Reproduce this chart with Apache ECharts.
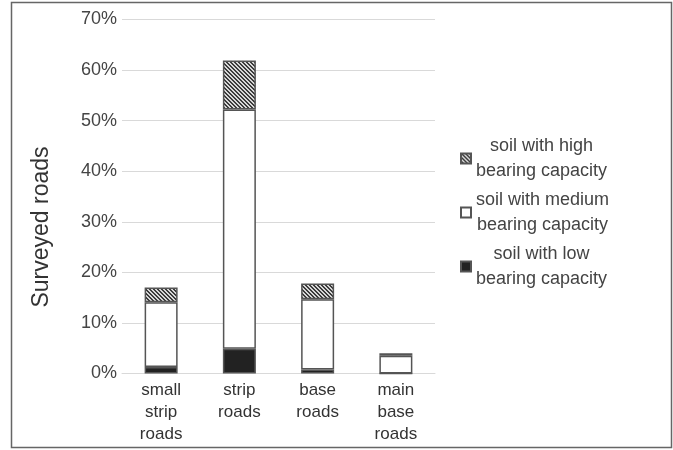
<!DOCTYPE html>
<html>
<head>
<meta charset="utf-8">
<script src="https://cdn.jsdelivr.net/npm/echarts@6/dist/echarts.min.js"></script>
<style>
html, body { margin: 0; padding: 0; background: #fff; }
#chart { width: 673px; height: 450px; }
</style>
</head>
<body>
<div id="chart"></div>
<script>
// data (percent of surveyed roads)
var categories = ['small\nstrip\nroads', 'strip\nroads', 'base\nroads', 'main\nbase\nroads'];
var lowSoil = [1.3, 4.9, 0.8, 0];
var mediumSoil = [12.8, 47.3, 13.9, 3.5];
var highSoil = [2.9, 9.7, 3.1, 0.5];
var seriesNames = ['soil with high\nbearing capacity', 'soil with medium\nbearing capacity', 'soil with low\nbearing capacity'];

// hatch pattern for "high"
function makeHatch() {
    var c = document.createElement('canvas');
    c.width = 4; c.height = 4;
    var ctx = c.getContext('2d');
    var img = ctx.createImageData(4, 4);
    for (var y = 0; y < 4; y++) {
        for (var x = 0; x < 4; x++) {
            var i = (y * 4 + x) * 4;
            var d = ((x - y) % 4 + 4) % 4;
            var v = d < 2 ? 60 : 215;
            img.data[i] = v; img.data[i + 1] = v; img.data[i + 2] = v; img.data[i + 3] = 255;
        }
    }
    ctx.putImageData(img, 0, 0);
    return c;
}

var chart = echarts.init(document.getElementById('chart'));
var font = 'Arial, "Liberation Sans", sans-serif';
var border = { borderColor: '#555', borderWidth: 1.5 };

chart.setOption({
    animation: false,
    textStyle: { fontFamily: font },
    grid: { left: 122, right: 238, top: 19.5, bottom: 76.5, containLabel: false },
    legend: {
        orient: 'vertical',
        left: 455,
        top: 132,
        icon: 'rect',
        itemWidth: 10,
        itemHeight: 10,
        itemGap: 11,
        data: seriesNames,
        formatter: function (name) {
            return name.split('\n').map(function (s) { return '{a|' + s + '}'; }).join('\n');
        },
        textStyle: {
            color: '#444',
            rich: { a: { fontSize: 18, lineHeight: 25, align: 'center', color: '#444', fontFamily: font } }
        }
    },
    xAxis: {
        type: 'category',
        data: categories,
        axisLine: { show: true, lineStyle: { color: '#d9d9d9' } },
        axisTick: { show: false },
        axisLabel: { color: '#333', fontSize: 17, lineHeight: 22, margin: 6 }
    },
    yAxis: {
        type: 'value',
        min: 0,
        max: 70,
        interval: 10,
        axisLine: { show: false },
        axisTick: { show: false },
        axisLabel: { color: '#444', fontSize: 18, margin: 5, formatter: '{value}%' },
        splitLine: { lineStyle: { color: '#d9d9d9', width: 1 } }
    },
    graphic: [
        {
            type: 'rect',
            shape: { x: 11.5, y: 2.5, width: 660, height: 445 },
            style: { fill: 'none', stroke: '#666', lineWidth: 1.5 },
            silent: true
        },
        {
            type: 'text',
            x: 42,
            y: 227,
            rotation: Math.PI / 2,
            style: {
                text: 'Surveyed roads',
                fontSize: 23,
                fontFamily: font,
                fill: '#333',
                align: 'center',
                verticalAlign: 'middle'
            }
        }
    ],
    series: [
        {
            name: seriesNames[2],
            type: 'bar',
            stack: 'total',
            barWidth: 33,
            data: lowSoil,
            itemStyle: Object.assign({ color: '#222' }, border)
        },
        {
            name: seriesNames[1],
            type: 'bar',
            stack: 'total',
            barWidth: 33,
            data: mediumSoil,
            itemStyle: Object.assign({ color: '#fff' }, border)
        },
        {
            name: seriesNames[0],
            type: 'bar',
            stack: 'total',
            barWidth: 33,
            data: highSoil,
            itemStyle: Object.assign({ color: { image: makeHatch(), repeat: 'repeat' } }, border)
        }
    ]
});
</script>
</body>
</html>
